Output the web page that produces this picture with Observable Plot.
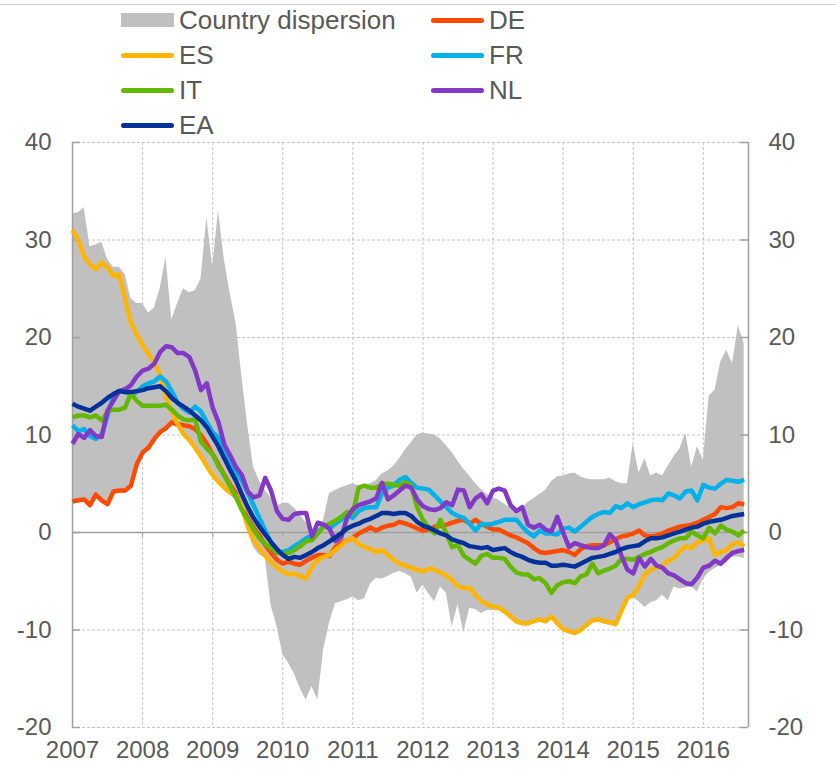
<!DOCTYPE html>
<html><head><meta charset="utf-8">
<script src="https://cdn.jsdelivr.net/npm/d3@7"></script>
<script src="https://cdn.jsdelivr.net/npm/@observablehq/plot@0.6"></script>
<style>
body{margin:0;background:#fff;font-family:"Liberation Sans",Arial,sans-serif;}
#wrap{width:836px;height:770px;position:relative;overflow:hidden;background:#fff}
#legend{position:relative;width:836px;height:120px;z-index:2}
.topline{position:absolute;left:0;top:4px;width:836px;height:1px;background:#cfcfcf}
.item{position:absolute;font-size:26px;color:#595959;line-height:1;white-space:nowrap}
.sw{position:absolute}
#chart{position:relative;z-index:1}
</style></head><body>
<div id="wrap"><div id="legend"><div class="topline"></div></div><div id="chart"></div></div>
<script>
// Monthly observations, Jan 2007 (index 0) to Aug 2016
const startYear = 2007;
const endYear = 2016.645;
const years = [2007,2008,2009,2010,2011,2012,2013,2014,2015,2016];
const yTicks = [-20,-10,0,10,20,30,40];

const dispersionHigh = [32.7,32.8,33.3,29.3,29.5,29.8,28,27.2,27.2,26.5,
 24,23.5,23.5,22.5,23,25,28.2,21.8,23.5,25,
 24.6,24.8,26,32.3,27.2,33,28,24.5,21.5,16,
 11,6.7,5.3,4.3,3.5,2.7,3,3,2.5,1.8,
 1,-0.1,-0.1,1.3,4,4.3,4.6,4.8,5,4.8,
 4.8,5,5.3,6,6.3,6.8,7.6,8.5,9.2,10,
 10.2,10.1,10,9.6,8.9,8.2,7.3,6.5,5.8,5,
 4.4,3.9,3.6,3.3,2.9,2.5,2.3,2.5,3.1,3.5,
 3.9,4.3,5.2,5.7,5.8,6,6.1,5.7,5.5,5.4,
 5.4,5.4,5.6,5.2,5,5,9.1,6.1,7.6,5.8,
 6.1,5.8,6.8,7.8,8.6,10.2,6.7,8.8,7.4,14,
 14.6,17.5,18.7,17.3,21.2,19.4];
const dispersionLow = [2.9,3,3.1,2.5,3.5,3,2.6,3.9,4,4,
 4.5,6.7,7.9,8.4,9.3,10,10.4,11,10.7,9.8,
 9.2,8.4,7.5,6.5,5.6,4.9,4.3,3.8,3.3,2.2,
 0.2,-1.5,-2.3,-2.6,-7.5,-9.6,-12.5,-13.4,-14.5,-16,
 -17.2,-15.8,-17.2,-12,-9.3,-7.3,-7.1,-6.9,-6.6,-7,
 -6.8,-5.3,-4.7,-4.8,-4.5,-4.2,-4,-4.2,-4.6,-6.2,
 -5.4,-6.3,-7.1,-5.6,-6.2,-9.7,-7.4,-10.3,-7.8,-7.9,
 -8.3,-8,-8,-8,-8.4,-8.9,-9.4,-9.6,-9.6,-9.4,
 -9.2,-9.4,-8.9,-9.6,-10.2,-10.4,-10.6,-10.3,-9.8,-9.3,
 -9.2,-9.4,-9.5,-9.7,-8.3,-7,-6.7,-7.1,-7.7,-7.2,
 -7,-6.4,-7,-5.6,-5.8,-5.7,-5.6,-6.1,-4.8,-4.1,
 -3.7,-3.4,-3.1,-2.5,-2.5,-2.7];

const DE = [3.2,3.3,3.4,2.8,3.9,3.3,2.9,4.2,4.3,4.3,
 4.8,7,8.2,8.7,9.6,10.3,10.7,11.3,11.1,11,
 10.9,10.6,10,9.1,8,7,5.9,4.9,4,2.5,
 1.5,0.5,-0.3,-1.3,-2.1,-2.8,-3.2,-3,-3.2,-3.3,
 -2.9,-2.6,-2.3,-2.3,-2.4,-1.5,-1.1,-0.8,-0.6,-0.1,
 0.2,0.5,0.2,0.5,0.7,0.8,1.1,0.9,0.7,0.4,
 0.2,0.3,0.6,0.7,0.8,1,1.2,1.3,0.9,1.3,
 0.9,0.6,0.3,0.3,0,-0.3,-0.5,-0.8,-1.1,-1.6,
 -2,-2.1,-2,-1.9,-1.8,-2,-2.3,-1.7,-1.4,-1.3,
 -1.3,-1.3,-1,-0.7,-0.4,-0.3,-0.1,0.2,-0.3,-0.4,
 -0.3,-0.1,0.2,0.4,0.6,0.7,0.8,1,1.3,1.6,
 1.9,2.6,2.5,2.6,3,2.9];
const ES = [31,30,28.3,27.5,27,27.7,27.2,26.3,26.5,24,
 21.5,20.3,19.2,18.3,17.4,16.2,13.9,12.4,11.1,10.1,
 9.5,8.7,7.8,6.8,5.9,5.2,4.6,4.1,3.8,2.6,
 0.6,-0.8,-1.6,-2.4,-3,-3.6,-4,-4.3,-4.2,-4.5,
 -4.7,-3.5,-2.8,-2.5,-2.3,-1.8,-1.3,-0.8,-0.6,-1.2,
 -1.5,-1.7,-2,-1.8,-2.3,-2.8,-3.2,-3.4,-3.6,-3.8,
 -4,-3.7,-3.8,-4.1,-4.4,-4.9,-5.5,-5.7,-5.7,-6.4,
 -7,-7.4,-7.6,-7.7,-8.1,-8.6,-9.1,-9.3,-9.3,-9.1,
 -8.9,-9.1,-8.6,-9.3,-9.9,-10.1,-10.3,-10,-9.5,-9,
 -8.9,-9.1,-9.2,-9.4,-8,-6.7,-6.4,-5.5,-4.3,-3.8,
 -3.6,-3.4,-2.9,-2.6,-1.9,-1.4,-1.6,-1,-0.8,-0.6,
 -2.3,-2,-1.8,-1.2,-1,-1.4];
const FR = [11,10.4,10.6,9.9,9.6,10,12,14,14.5,14.4,
 14.2,14.4,15,15.3,15.5,16,15.5,14.5,13.3,12.7,
 12.3,12.9,12.4,11.3,10.3,9.7,8.5,7.3,6.2,5.3,
 4.1,2.8,1.5,0.2,-1,-2.1,-2,-1.8,-1.4,-1,
 -0.6,-0.3,0,0.7,0.4,0.9,1.3,1.8,1.5,2.2,
 2.5,2.6,2.6,4,4.6,4.8,5.4,5.7,5.1,4.6,
 4.5,4.4,3.8,3.2,2.6,2,1.7,1.5,0.9,0.2,
 0.9,0.8,0.9,1.1,1.3,1.3,1.3,0.6,0,-0.4,
 0.2,-0.1,-0.1,-0.2,0.4,0.5,0.1,0.6,1.1,1.6,
 1.9,2.1,2,2.7,2.5,3,2.6,2.9,3.1,3.3,
 3.4,3.3,4,3.8,3.5,4.2,4.3,3.3,4.9,4.6,
 4.5,5,5.4,5.3,5.2,5.4];
const IT = [11.8,12,12,11.8,12,11.5,12.4,12.6,12.6,12.8,
 14.3,13.5,13,13,13,13,13.1,12.6,12,11.6,
 11.5,11.6,9.3,8.6,8,6.8,5.8,4.7,3.6,2.3,
 1.3,0.3,-0.6,-1.2,-1.6,-2,-2.2,-2.1,-1.8,-1.4,
 -0.9,-0.8,-0.1,0.6,0.9,1.2,1.6,2.1,2,4.6,
 4.8,4.6,4.6,5,5,4.9,4.8,5.2,4.8,2.6,
 1.3,0.5,-0.1,1.3,-0.1,-1.5,-1.3,-2.4,-2.8,-3.2,
 -2.4,-2.2,-2.6,-2.6,-2.7,-3.5,-4.1,-4.3,-4.3,-4.8,
 -4.7,-5.2,-6.2,-5.4,-5.1,-5,-5.2,-4.5,-4.3,-3.2,
 -4.2,-3.9,-3.7,-3.4,-2.7,-2.7,-2.8,-2.5,-2.2,-2,
 -1.7,-1.5,-1.1,-0.8,-0.6,-0.6,0.1,-0.3,-0.6,0.5,
 -0.1,0.7,0.3,0.1,-0.3,0.2];
const NL = [9.1,10.1,9.7,10.5,9.9,9.8,12.5,13.5,14.5,14.7,
 15.1,16,16.6,16.8,17.3,18.5,19.1,19,18.4,18.4,
 18,16.6,14.6,15.3,12.8,11.3,9,7.9,6.7,5.9,
 4.2,3.6,3.8,5.6,4.3,2.2,1.4,1.3,1.9,2,
 2,-0.4,1,0.8,0.4,-0.9,-0.5,1.5,2.4,2.8,
 3,3.2,3.5,5.1,3.4,3.8,4.3,4.8,4.6,3.4,
 2.7,2.4,2.3,2.5,3.1,2.8,4.4,4.3,2.6,3.5,
 3.9,3,4.3,4.5,4.3,2.8,2.2,2.6,0.8,0.5,
 0.8,0.3,0.1,1.6,0,-1.5,-1.1,-1.3,-1.5,-1.6,
 -1.6,-1.3,-0.2,-0.8,-2.4,-3.8,-4.2,-2.6,-3.5,-2.7,
 -3.4,-3.6,-4.2,-4.4,-4.8,-5.2,-5.3,-4.6,-3.6,-3.4,
 -2.9,-3.2,-2.6,-2.1,-1.9,-1.8];
const EA = [13.2,12.9,12.7,12.5,12.9,13.3,13.8,14.2,14.5,14.4,
 14.4,14.5,14.6,14.8,14.9,15,14.5,13.8,13.3,12.9,
 12.5,12,11.5,10.8,9.8,8.8,7.6,6.4,5.3,3.9,
 2.6,1.5,0.6,-0.2,-1,-1.7,-2.3,-2.7,-2.5,-2.6,
 -2.3,-2,-1.6,-1.3,-0.9,-0.5,-0.1,0.4,0.7,0.9,
 1.2,1.4,1.7,2,2,1.9,2,2,1.7,1.1,
 0.7,0.5,0.2,-0.1,-0.3,-0.7,-0.9,-1.1,-1.4,-1.5,
 -1.6,-1.5,-1.8,-1.7,-1.6,-2,-2.3,-2.5,-2.8,-3,
 -3.1,-3.1,-3.4,-3.4,-3.3,-3.4,-3.5,-3.2,-2.9,-2.6,
 -2.5,-2.4,-2.2,-2,-1.7,-1.5,-1.4,-1.3,-0.9,-0.6,
 -0.6,-0.5,-0.3,-0.1,0.1,0.3,0.5,0.6,0.9,1.1,
 1.2,1.3,1.5,1.7,1.8,1.9];

const seriesNames = ["DE","ES","FR","IT","NL","EA"];
const seriesValues = {DE, ES, FR, IT, NL, EA};
const seriesColors = {DE:"#FF4B00", ES:"#FFB400", FR:"#00B1EA", IT:"#65B800", NL:"#8139C6", EA:"#003299"};
const dispersionLabel = "Country dispersion";
const dispersionColor = "#c0c0c0";

// legend (HTML, above the SVG)
const legend = document.getElementById("legend");
const legendItems = [
  {label: dispersionLabel, color: dispersionColor, area: true, col: 0, row: 0},
  {label: "DE", color: seriesColors.DE, col: 1, row: 0},
  {label: "ES", color: seriesColors.ES, col: 0, row: 1},
  {label: "FR", color: seriesColors.FR, col: 1, row: 1},
  {label: "IT", color: seriesColors.IT, col: 0, row: 2},
  {label: "NL", color: seriesColors.NL, col: 1, row: 2},
  {label: "EA", color: seriesColors.EA, col: 0, row: 3}
];
const colX = [121, 431], rowY = [20, 55, 90, 125];
for (const it of legendItems) {
  const sw = document.createElement("div");
  sw.className = "sw";
  const cy = rowY[it.row];
  sw.style.left = colX[it.col] + "px";
  sw.style.width = "53px";
  sw.style.background = it.color;
  if (it.area) { sw.style.top = (cy - 7) + "px"; sw.style.height = "14px"; }
  else { sw.style.top = (cy - 2.5) + "px"; sw.style.height = "5px"; sw.style.borderRadius = "3px"; }
  legend.appendChild(sw);
  const tx = document.createElement("div");
  tx.className = "item";
  tx.textContent = it.label;
  tx.style.left = (colX[it.col] + 58) + "px";
  tx.style.top = (cy - 12.7) + "px";
  legend.appendChild(tx);
}

const band = dispersionHigh.map((h, i) => ({t: startYear + i / 12, hi: h, lo: dispersionLow[i]}));
const lineMarks = seriesNames.map(name => Plot.line(
  seriesValues[name].map((v, i) => ({t: startYear + i / 12, v})),
  {x: "t", y: "v", stroke: seriesColors[name], strokeWidth: 4.5, strokeLinejoin: "round", strokeLinecap: "butt"}
));

const W = 836, mL = 72, mR = 88, plotW = W - mL - mR;
const gridColor = "#c4c4c4", axisColor = "#a0a0a0", textColor = "#595959";

const chart = Plot.plot({
  width: W, height: 650,
  marginTop: 22, marginBottom: 43, marginLeft: mL, marginRight: mR,
  style: {background: "transparent", fontFamily: "'Liberation Sans', Arial, sans-serif", fontSize: "24px", color: textColor, overflow: "visible"},
  x: {domain: [startYear, endYear]},
  y: {domain: [-20, 40]},
  marks: [
    Plot.ruleX(years.slice(1), {stroke: gridColor, strokeDasharray: "3,2"}),
    Plot.ruleY(yTicks.filter(d => d !== 0), {stroke: gridColor, strokeDasharray: "3,2"}),
    Plot.areaY(band, {x: "t", y1: "lo", y2: "hi", fill: dispersionColor, curve: "linear"}),
    Plot.ruleY([0], {stroke: axisColor, strokeWidth: 1.5}),
    Plot.ruleX(years.slice(1), {y1: 0, y2: -20, insetBottom: 195 - 5, stroke: axisColor}),
    Plot.ruleX([startYear, endYear], {stroke: axisColor, strokeWidth: 1.5}),
    Plot.ruleY(yTicks, {x1: startYear, x2: endYear, insetRight: plotW - 8, stroke: axisColor, strokeWidth: 1.5}),
    Plot.ruleY(yTicks, {x1: startYear, x2: endYear, insetLeft: plotW - 8, stroke: axisColor, strokeWidth: 1.5}),
    ...lineMarks,
    Plot.axisY({anchor: "left", ticks: yTicks, tickSize: 0, tickPadding: 21, tickFormat: d => String(d), label: null, fill: textColor}),
    Plot.axisY({anchor: "right", ticks: yTicks, tickSize: 0, tickPadding: 20, tickFormat: d => String(d), label: null, fill: textColor}),
    Plot.axisX({ticks: years, tickSize: 0, tickPadding: 13, tickFormat: d => String(d), label: null, fill: textColor})
  ]
});
document.getElementById("chart").appendChild(chart);
</script>
</body></html>
